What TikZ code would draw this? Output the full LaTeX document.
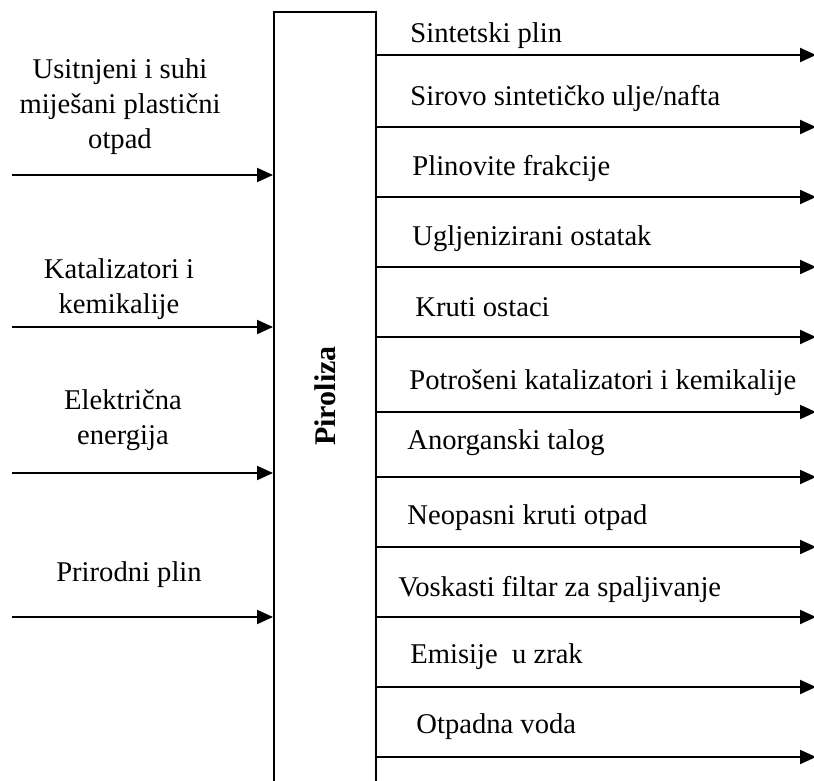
\documentclass[tikz,border=0pt]{standalone}
\usepackage{fontspec}
\setmainfont{Liberation Serif}
\usetikzlibrary{arrows.meta}

\begin{document}
\begin{tikzpicture}
    [x=0.5pt,y=-0.5pt,
     every node/.style={font=\fontsize{14.3}{17.5}\selectfont,inner sep=0pt},
     tok/.style={line width=1pt,-{Triangle[length=8pt,width=7pt]}}]
    \useasboundingbox (0,0) rectangle (814,781);
    \clip (0,0) rectangle (814,781);
    \node[draw,line width=1pt,minimum width=51pt,minimum height=394pt] (pir) at (325,406) {};
    \node[rotate=90,font=\fontsize{15}{18}\selectfont\bfseries] (pirtxt) at (325,396) {Piroliza};
    % ulazi
    \coordinate (u1) at (12,175);
    \coordinate (u2) at (12,327);
    \coordinate (u3) at (12,473);
    \coordinate (u4) at (12,617);
    \node[align=center] (tu1) at (120,107) {Usitnjeni i suhi\\miješani plastični\\otpad};
    \node[align=center] (tu2) at (119,289) {Katalizatori i\\kemikalije};
    \node[align=center] (tu3) at (123,420) {Električna\\energija};
    \node (tu4) at (129,575) {Prirodni plin};
    \draw[tok] (u1) -- (u1 -| pir.west) ;
    \draw[tok] (u2) -- (u2 -| pir.west) ;
    \draw[tok] (u3) -- (u3 -| pir.west) ;
    \draw[tok] (u4) -- (u4 -| pir.west) ;
    % izlazi
    \coordinate (i1) at (816,55);
    \coordinate (i2) at (816,127);
    \coordinate (i3) at (816,197);
    \coordinate (i4) at (816,267);
    \coordinate (i5) at (816,337);
    \coordinate (i6) at (816,412);
    \coordinate (i7) at (816,477);
    \coordinate (i8) at (816,547);
    \coordinate (i9) at (816,617);
    \coordinate (i10) at (816,687);
    \coordinate (i11) at (816,757);
    \node[anchor=west] (ti1) at (410,36) {Sintetski plin};
    \node[anchor=west] (ti2) at (410,98) {Sirovo sintetičko ulje/nafta};
    \node[anchor=west] (ti3) at (412,168) {Plinovite frakcije};
    \node[anchor=west] (ti4) at (412,239) {Ugljenizirani ostatak};
    \node[anchor=west] (ti5) at (415,307) {Kruti ostaci};
    \node[anchor=west] (ti6) at (409,383) {Potrošeni katalizatori i kemikalije};
    \node[anchor=west] (ti7) at (407,443) {Anorganski talog};
    \node[anchor=west] (ti8) at (407,518) {Neopasni kruti otpad};
    \node[anchor=west] (ti9) at (398,589) {Voskasti filtar za spaljivanje};
    \node[anchor=west] (ti10) at (410,657) {Emisije \ u zrak};
    \node[anchor=west] (ti11) at (416,727) {Otpadna voda};
    \draw[tok] (i1 -| pir.east) -- (i1) ;
    \draw[tok] (i2 -| pir.east) -- (i2) ;
    \draw[tok] (i3 -| pir.east) -- (i3) ;
    \draw[tok] (i4 -| pir.east) -- (i4) ;
    \draw[tok] (i5 -| pir.east) -- (i5) ;
    \draw[tok] (i6 -| pir.east) -- (i6) ;
    \draw[tok] (i7 -| pir.east) -- (i7) ;
    \draw[tok] (i8 -| pir.east) -- (i8) ;
    \draw[tok] (i9 -| pir.east) -- (i9) ;
    \draw[tok] (i10 -| pir.east) -- (i10) ;
    \draw[tok] (i11 -| pir.east) -- (i11) ;
  \end{tikzpicture}
\end{document}
